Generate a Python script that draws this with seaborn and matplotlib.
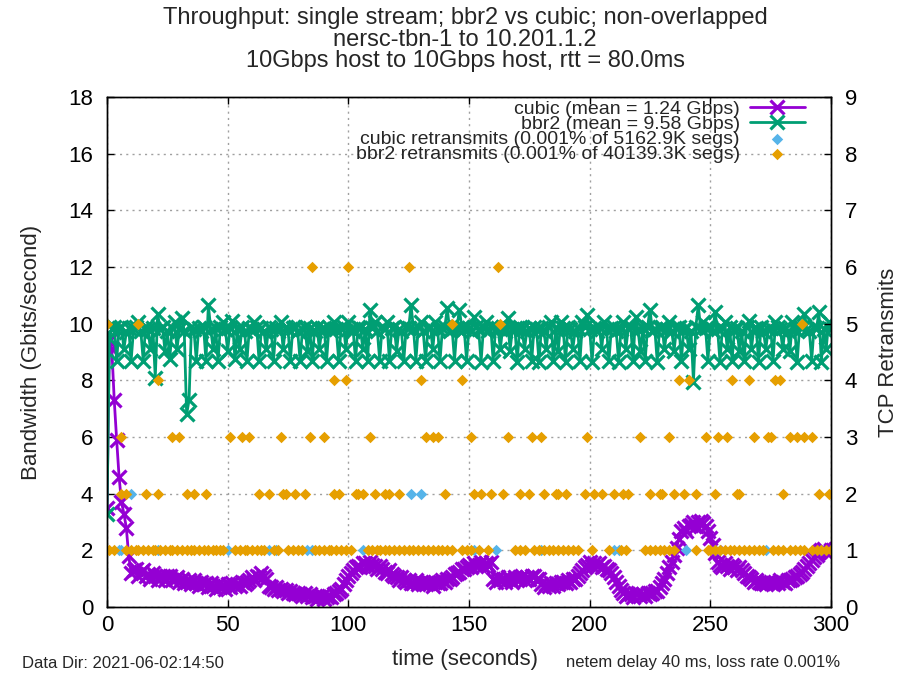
import matplotlib
matplotlib.use("Agg")
import matplotlib.pyplot as plt
import pandas as pd
import seaborn as sns

# ---------------- data ----------------
time_s = list(range(0, 301))

cubic_gbps = [
    3.5, 9.4, 9.1, 7.3, 5.9, 4.6, 3.7, 3.3, 2.8, 1.8,
    1.2, 1.3, 1.35, 1.1, 1.25, 1.3, 1.1, 1.15, 1.0, 1.2,
    1.1, 0.95, 1.1, 1.1, 0.95, 1.1, 1.1, 0.95, 1.0, 1.05,
    0.9, 1.0, 0.85, 0.9, 0.95, 0.8, 0.95, 0.85, 0.75, 0.9,
    0.8, 0.85, 0.7, 0.85, 0.75, 0.65, 0.8, 0.7, 0.75, 0.65,
    0.8, 0.7, 0.85, 0.75, 0.8, 0.75, 0.9, 0.8, 0.9, 0.95,
    1.05, 0.95, 1.1, 1.05, 1.2, 1.1, 1.0, 0.75, 0.7, 0.65,
    0.7, 0.6, 0.65, 0.55, 0.6, 0.5, 0.55, 0.5, 0.45, 0.5,
    0.45, 0.4, 0.5, 0.4, 0.45, 0.35, 0.4, 0.3, 0.35, 0.4,
    0.3, 0.35, 0.4, 0.35, 0.45, 0.5, 0.55, 0.65, 0.8, 0.95,
    1.1, 1.2, 1.3, 1.4, 1.45, 1.4, 1.55, 1.55, 1.45, 1.6,
    1.5, 1.45, 1.35, 1.45, 1.35, 1.25, 1.2, 1.3, 1.15, 1.1,
    1.05, 0.95, 1.05, 0.95, 0.9, 0.95, 0.85, 0.85, 0.95, 0.8,
    0.9, 0.8, 0.8, 0.9, 0.85, 0.75, 0.9, 0.85, 0.85, 0.95,
    0.9, 1.0, 1.0, 1.05, 1.15, 1.2, 1.25, 1.35, 1.35, 1.4,
    1.5, 1.4, 1.55, 1.45, 1.5, 1.6, 1.45, 1.55, 1.5, 1.6,
    1.0, 0.9, 1.05, 0.95, 1.0, 0.9, 1.05, 1.0, 0.9, 1.05,
    0.95, 1.0, 1.1, 0.95, 1.05, 1.0, 1.1, 1.1, 1.0, 1.0,
    0.8, 0.7, 0.8, 0.75, 0.85, 0.75, 0.85, 0.8, 0.9, 0.9,
    0.85, 0.95, 0.9, 1.0, 1.0, 1.1, 1.2, 1.3, 1.4, 1.5,
    1.6, 1.45, 1.55, 1.5, 1.55, 1.4, 1.45, 1.35, 1.3, 1.2,
    1.05, 0.9, 0.75, 0.6, 0.5, 0.4, 0.45, 0.45, 0.35, 0.45,
    0.5, 0.4, 0.45, 0.4, 0.5, 0.45, 0.5, 0.55, 0.55, 0.7,
    0.85, 1.0, 1.2, 1.4, 1.6, 1.85, 2.1, 2.4, 2.7, 2.8,
    2.7, 2.85, 2.9, 3.0, 2.85, 3.0, 3.05, 2.95, 2.85, 2.7,
    2.45, 2.2, 1.9, 1.6, 1.5, 1.4, 1.55, 1.45, 1.35, 1.5,
    1.4, 1.3, 1.4, 1.3, 1.2, 1.1, 1.05, 1.0, 0.9, 0.95,
    0.9, 0.85, 0.85, 0.8, 0.9, 0.85, 0.8, 0.9, 0.85, 0.95,
    0.9, 0.85, 0.95, 0.95, 1.0, 1.05, 1.1, 1.15, 1.25, 1.35,
    1.45, 1.55, 1.65, 1.75, 1.85, 1.95, 2.0, 2.05, 1.95, 1.9,
    2.0,
]

bbr2_gbps = [
    3.3, 9.5, 9.8, 9.9, 8.7, 9.85, 9.9, 9.1, 9.7, 9.85,
    8.7, 9.8, 9.9, 10.05, 9.75, 8.7, 9.9, 9.8, 9.1, 9.85,
    8.1, 10.35, 9.8, 9.9, 9.05, 9.75, 8.75, 9.85, 10.05, 9.1,
    9.8, 10.2, 9.75, 6.8, 7.3, 9.9, 9.8, 8.7, 9.85, 9.75,
    9.9, 8.7, 10.65, 9.8, 9.1, 9.85, 8.7, 9.9, 10.05, 9.8,
    9.05, 9.85, 10.1, 8.75, 9.8, 9.1, 9.9, 9.75, 8.7, 9.85,
    9.8, 10.05, 9.9, 8.7, 9.85, 9.75, 9.1, 9.9, 9.8, 8.7,
    9.85, 9.75, 10.05, 9.1, 9.9, 9.8, 8.7, 9.85, 9.9, 9.75,
    8.7, 9.8, 9.9, 9.05, 9.85, 8.7, 9.75, 9.9, 9.1, 9.8,
    9.85, 8.7, 9.9, 9.75, 10.05, 9.8, 8.7, 9.85, 9.9, 9.1,
    10.05, 9.8, 9.75, 8.7, 9.9, 9.85, 9.1, 9.8, 8.7, 10.5,
    9.85, 10.05, 9.75, 8.7, 9.9, 9.8, 10.05, 8.7, 9.85, 9.9,
    9.05, 9.8, 9.75, 8.7, 9.9, 9.85, 10.65, 9.8, 8.7, 9.9,
    10.05, 9.75, 8.7, 9.85, 9.9, 9.1, 10.05, 9.8, 8.7, 9.85,
    9.9, 10.55, 9.75, 9.8, 8.7, 9.85, 10.5, 9.9, 9.8, 8.7,
    9.85, 9.75, 10.25, 9.9, 9.8, 8.65, 9.85, 10.05, 9.75, 9.9,
    8.7, 9.8, 9.85, 9.1, 9.9, 9.75, 10.2, 9.05, 9.8, 9.85,
    8.65, 9.9, 9.8, 9.1, 9.75, 9.85, 8.7, 9.9, 9.8, 8.65,
    9.85, 9.75, 9.1, 9.9, 10.05, 8.7, 9.8, 9.05, 10.05, 9.85,
    8.65, 9.9, 9.8, 9.1, 9.75, 9.85, 8.7, 10.05, 9.9, 10.3,
    9.8, 8.65, 9.85, 9.75, 9.9, 9.1, 10.05, 9.8, 8.7, 9.85,
    9.9, 9.75, 8.65, 9.8, 10.05, 9.1, 9.85, 9.9, 8.7, 10.25,
    9.8, 9.05, 9.85, 8.7, 9.9, 10.5, 9.75, 9.8, 8.65, 9.85,
    9.9, 9.1, 9.8, 10.05, 9.75, 9.05, 9.85, 9.9, 8.7, 9.8,
    9.85, 9.1, 9.75, 7.95, 9.9, 10.65, 9.8, 10.05, 9.85, 8.7,
    9.9, 9.75, 10.4, 9.8, 8.65, 9.85, 10.05, 9.1, 9.9, 8.7,
    9.8, 9.85, 9.05, 9.75, 8.7, 9.9, 10.1, 9.1, 9.8, 9.85,
    8.65, 9.9, 9.75, 9.1, 9.8, 9.85, 8.7, 10.05, 9.9, 9.8,
    9.1, 9.85, 9.75, 9.05, 10.05, 9.8, 8.65, 9.9, 9.85, 10.35,
    9.8, 9.75, 8.7, 9.9, 9.85, 10.4, 8.65, 9.8, 9.1, 10.05,
    9.8,
]

# retransmits: time (s) of each sample, grouped by retransmit count
cubic_retx_1 = [5, 6, 21, 50, 67, 70, 83, 85, 106, 152, 161, 180, 210, 212,
                240, 252, 254, 273, 296]
cubic_retx_2 = [10, 126, 130]

bbr2_retx_1 = [1, 3, 8, 10, 12, 13, 15, 17, 19, 20, 22, 24, 26, 27, 29, 31, 33,
               35, 36, 38, 40, 42, 44, 45, 47, 48, 53, 55, 57, 58, 60, 62, 64,
               65, 69, 71, 75, 77, 79, 81, 86, 88, 90, 92, 93, 95, 97, 99, 101,
               108, 110, 112, 113, 115, 117, 119, 121, 123, 125, 127, 129, 131,
               133, 135, 137, 139, 141, 143, 147, 149, 151, 154, 158, 169, 171,
               173, 177, 179, 181, 183, 185, 187, 189, 191, 193, 195, 201, 208,
               213, 215, 223, 225, 227, 229, 231, 233, 235, 244, 249, 250, 252,
               254, 256, 258, 260, 262, 264, 266, 268, 270, 272, 276, 278, 280,
               283, 285, 287, 289, 292, 294, 296, 298, 300]
bbr2_retx_2 = [6, 8, 16, 21, 33, 36, 41, 63, 67, 73, 74, 78, 82, 94, 96, 103,
               104, 106, 111, 115, 117, 121, 140, 152, 155, 159, 164, 171, 175,
               181, 186, 187, 190, 198, 202, 205, 210, 214, 216, 225, 229, 230,
               235, 239, 244, 252, 261, 262, 280, 295, 299]
bbr2_retx_3 = [6, 27, 30, 51, 56, 59, 72, 84, 90, 109, 132, 135, 137, 151, 166,
               176, 180, 199, 221, 233, 248, 253, 257, 268, 274, 275, 283, 286,
               289, 292]
bbr2_retx_4 = [21, 94, 99, 130, 147, 237, 241, 259, 266, 277, 279]
bbr2_retx_5 = [0, 13, 143, 163, 288]
bbr2_retx_6 = [85, 100, 125, 162]

series_labels = [
    "cubic (mean = 1.24 Gbps)",
    "bbr2 (mean = 9.58 Gbps)",
    "cubic retransmits (0.001% of 5162.9K segs)",
    "bbr2 retransmits (0.001% of 40139.3K segs)",
]
title_lines = [
    "Throughput: single stream; bbr2 vs cubic; non-overlapped",
    "nersc-tbn-1 to 10.201.1.2",
    "10Gbps host to 10Gbps host, rtt = 80.0ms",
]
x_ticks = [0, 50, 100, 150, 200, 250, 300]
y_ticks = [0, 2, 4, 6, 8, 10, 12, 14, 16, 18]
y2_ticks = [0, 1, 2, 3, 4, 5, 6, 7, 8, 9]

# ---------------- tables ----------------
cubic_df = pd.DataFrame({"time": time_s, "gbps": cubic_gbps})
bbr2_df = pd.DataFrame({"time": time_s, "gbps": bbr2_gbps})


def retx_frame(levels):
    t, c = [], []
    for count, times in levels:
        t += times
        c += [count] * len(times)
    return pd.DataFrame({"time": t, "retx": c})


cubic_rt = retx_frame([(1, cubic_retx_1), (2, cubic_retx_2)])
bbr2_rt = retx_frame([(1, bbr2_retx_1), (2, bbr2_retx_2), (3, bbr2_retx_3),
                      (4, bbr2_retx_4), (5, bbr2_retx_5), (6, bbr2_retx_6)])

# ---------------- style ----------------
sns.set_theme(style="white")
plt.rcParams["font.family"] = ["Liberation Sans", "DejaVu Sans"]
plt.rcParams["axes.edgecolor"] = "black"
plt.rcParams["axes.linewidth"] = 1.0

C_CUBIC = "#9400d3"
C_BBR2 = "#009e73"
C_CUBIC_RT = "#56b4e9"
C_BBR2_RT = "#e69f00"

W, H = 909, 677
fig = plt.figure(figsize=(W / 100, H / 100), dpi=100)
L, R, T, B = 107, 831, 97, 607
ax = fig.add_axes([L / W, 1 - B / H, (R - L) / W, (B - T) / H])
ax2 = ax.twinx()

line_kw = dict(marker="x", markersize=9.5, markeredgewidth=2.3, linewidth=2.0,
               estimator=None, errorbar=None, legend=False)
sns.lineplot(data=cubic_df, x="time", y="gbps", ax=ax, color=C_CUBIC,
             markeredgecolor=C_CUBIC, **line_kw)
sns.lineplot(data=bbr2_df, x="time", y="gbps", ax=ax, color=C_BBR2,
             markeredgecolor=C_BBR2, **line_kw)

sc_kw = dict(marker="D", s=34, linewidth=0, legend=False)
sns.scatterplot(data=cubic_rt, x="time", y="retx", ax=ax2, color=C_CUBIC_RT,
                **sc_kw)
sns.scatterplot(data=bbr2_rt, x="time", y="retx", ax=ax2, color=C_BBR2_RT,
                **sc_kw)

ax.set_xlim(0, 300)
ax.set_ylim(0, 18)
ax2.set_ylim(0, 9)
ax.set_xticks(x_ticks)
ax.set_yticks(y_ticks)
ax2.set_yticks(y2_ticks)

ax.grid(True, color="#a0a0a0", linestyle=(0, (1.5, 3)), linewidth=1.0)
ax2.grid(False)

ax.tick_params(axis="both", direction="in", length=5, width=1, labelsize=16,
               colors="black", top=True, bottom=True, left=True, right=False)
ax.tick_params(axis="y", pad=10)
ax.tick_params(axis="x", pad=6)
ax2.tick_params(axis="y", direction="in", length=5, width=1, labelsize=16,
                colors="black", pad=10, right=True)

for a in (ax, ax2):
    for s in a.spines.values():
        s.set_color("black")
        s.set_linewidth(1.0)

ax.set_xlabel("time (seconds)", fontsize=16)
ax.set_ylabel("Bandwidth (Gbits/second)", fontsize=16)
ax2.set_ylabel("TCP Retransmits", fontsize=16)
ax.xaxis.label.set_va("center")
ax.yaxis.label.set_va("center")
ax2.yaxis.label.set_va("center")
ax.xaxis.set_label_coords((465 - L) / (R - L), (B - 660) / (B - T))
ax.yaxis.set_label_coords((32 - L) / (R - L), 0.5)
ax2.yaxis.set_label_coords((888 - L) / (R - L), 0.5)

handles = list(ax.get_lines()[:2]) + list(ax2.collections[:2])
leg = ax2.legend(handles, series_labels, loc="upper right",
                 bbox_to_anchor=((805 - L) / (R - L), (B - 100) / (B - T)),
                 markerfirst=False, frameon=False, fontsize=14,
                 handlelength=2.85, handletextpad=0.5, labelspacing=-0.12,
                 borderaxespad=0, borderpad=0)

for line, y in zip(title_lines, [18, 40, 61]):
    fig.text(465 / W, 1 - y / H, line, ha="center", va="center", fontsize=17)

fig.text(22 / W, 1 - 663 / H, "Data Dir: 2021-06-02:14:50", ha="left",
         va="center", fontsize=12)
fig.text(840 / W, 1 - 663 / H, "netem delay 40 ms, loss rate 0.001%",
         ha="right", va="center", fontsize=12)

fig.savefig("out.png", dpi=100)
